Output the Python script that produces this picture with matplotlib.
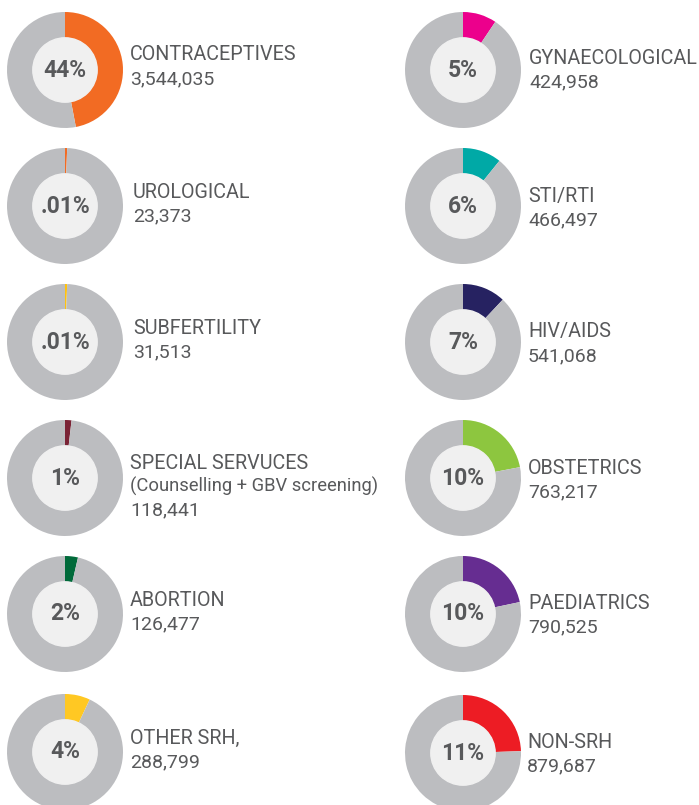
import matplotlib.pyplot as plt
from matplotlib.patches import Circle

# ── Data ──────────────────────────────────────────────────────────────────────
left_names = ["CONTRACEPTIVES", "UROLOGICAL", "SUBFERTILITY",
              "SPECIAL SERVUCES", "ABORTION", "OTHER SRH,"]
left_counts = ["3,544,035", "23,373", "31,513", "118,441", "126,477", "288,799"]
left_pcts = ["44%", ".01%", ".01%", "1%", "2%", "4%"]
left_share = [0.47, 0.006, 0.006, 0.018, 0.036, 0.07]
left_colors = ["#F26B23", "#F26B23", "#FFC20E", "#7A2335", "#006A3A", "#FFC823"]

right_names = ["GYNAECOLOGICAL", "STI/RTI", "HIV/AIDS",
               "OBSTETRICS", "PAEDIATRICS", "NON-SRH"]
right_counts = ["424,958", "466,497", "541,068", "763,217", "790,525", "879,687"]
right_pcts = ["5%", "6%", "7%", "10%", "10%", "11%"]
right_share = [0.094, 0.108, 0.12, 0.22, 0.217, 0.245]
right_colors = ["#EC008C", "#00A9A6", "#262261", "#8DC63F", "#662D91", "#ED1C24"]

special_note = "(Counselling + GBV screening)"

# ── Layout (pixels) ───────────────────────────────────────────────────────────
W, H = 699, 805
R = 58
GRAY = "#BCBDC0"
INNER = "#F0F0F0"
TXT = "#58595B"
col_x = [65, 463]
row_y = [[70, 206, 342, 478, 614, 752], [70, 206, 342, 478, 614, 753]]
text_x = [[130, 133, 133, 130, 130, 130], [529, 528, 528, 528, 528, 527]]
title_y = [[55, 192, 328, 463, 600, 738], [58, 196, 332, 468, 603, 742]]
num_gap = 24

plt.rcParams["font.family"] = ["Roboto", "DejaVu Sans"]

fig = plt.figure(figsize=(W / 100, H / 100), dpi=100)
fig.patch.set_facecolor("white")


def donut(cx, cy, share, color, pct):
    ax = fig.add_axes([(cx - R) / W, 1 - (cy + R) / H, 2 * R / W, 2 * R / H])
    ax.pie([share, 1 - share], colors=[color, GRAY], startangle=90,
           counterclock=False, radius=1,
           wedgeprops=dict(width=0.45, linewidth=0))
    ax.add_patch(Circle((0, 0), 0.555, color=INNER, zorder=3))
    ax.text(0, 0, pct, ha="center", va="center", fontsize=16.5,
            fontweight="bold", color=TXT, zorder=4)
    ax.set_xlim(-1, 1)
    ax.set_ylim(-1, 1)
    ax.set_aspect("equal")
    ax.axis("off")


columns = [
    (left_names, left_counts, left_pcts, left_share, left_colors),
    (right_names, right_counts, right_pcts, right_share, right_colors),
]

for c, (names, counts, pcts, shares, colors) in enumerate(columns):
    for i in range(6):
        donut(col_x[c], row_y[c][i], shares[i], colors[i], pcts[i])
        tx = text_x[c][i] / W
        ty = title_y[c][i]
        fig.text(tx, 1 - ty / H, names[i], ha="left", va="center",
                 fontsize=14.2, color=TXT)
        if c == 0 and names[i].startswith("SPECIAL"):
            fig.text(tx, 1 - (ty + 23) / H, special_note, ha="left",
                     va="center", fontsize=13.2, color=TXT)
            ty += 23
        fig.text(tx, 1 - (ty + num_gap) / H, counts[i], ha="left",
                 va="center", fontsize=14, color=TXT)

fig.savefig("out.png", dpi=100, facecolor="white")
